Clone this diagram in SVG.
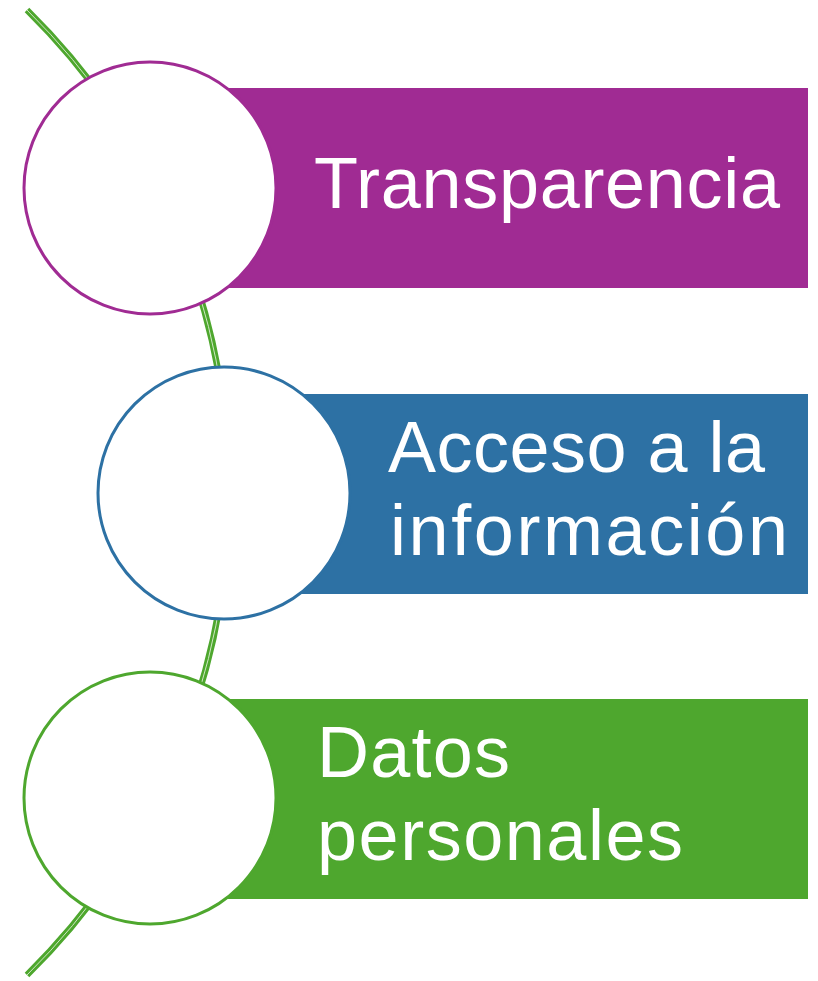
<svg xmlns="http://www.w3.org/2000/svg" width="818" height="981" viewBox="0 0 818 981">
<style>
.lbl{font-family:"Liberation Sans",Arial,sans-serif;font-size:72px;fill:#ffffff}
.circ{fill:#ffffff;stroke-width:3}
</style>
<rect width="818" height="981" fill="#ffffff"/>
<g id="connectors">
<path d="M 27 10 A 677 677 0 0 1 27 975" fill="none" stroke="#4EA72E" stroke-width="6.5"/>
<path d="M 27 10 A 677 677 0 0 1 27 975" fill="none" stroke="#cfe8c3" stroke-width="1"/>
</g>
<g id="node1">
<rect x="150" y="88" width="658" height="200" fill="#A02B93"/>
<circle class="circ" cx="150" cy="188" r="126" stroke="#A02B93"/>
<text class="lbl" x="314" y="208" textLength="466" lengthAdjust="spacing">Transparencia</text>
</g>
<g id="node2">
<rect x="224" y="394" width="584" height="200" fill="#2D71A4"/>
<circle class="circ" cx="224" cy="493" r="126" stroke="#2D71A4"/>
<text class="lbl" x="388" y="472" textLength="377" lengthAdjust="spacing">Acceso a la</text>
<text class="lbl" x="390" y="555" textLength="398" lengthAdjust="spacing">información</text>
</g>
<g id="node3">
<rect x="150" y="699" width="658" height="200" fill="#4EA72E"/>
<circle class="circ" cx="150" cy="798" r="126" stroke="#4EA72E"/>
<text class="lbl" x="317" y="777" textLength="193" lengthAdjust="spacing">Datos</text>
<text class="lbl" x="317" y="860" textLength="366" lengthAdjust="spacing">personales</text>
</g>
</svg>
